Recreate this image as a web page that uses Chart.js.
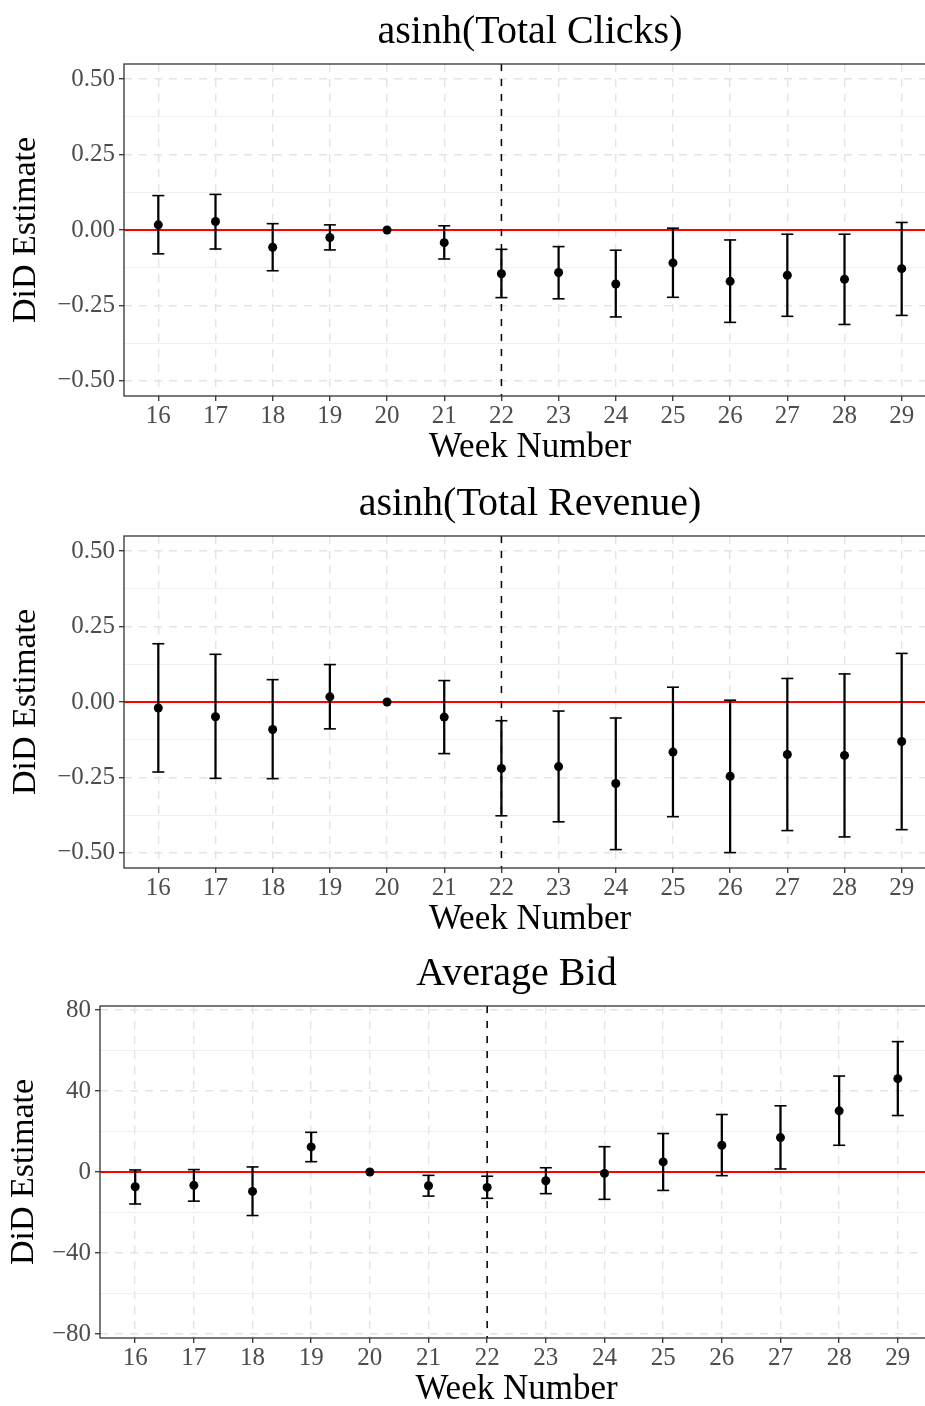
<!DOCTYPE html>
<html>
<head>
<meta charset="utf-8">
<script src="https://cdn.jsdelivr.net/npm/chart.js@4.4.1/dist/chart.umd.min.js"></script>
<style>
  html, body { margin: 0; padding: 0; background: #fff; overflow: hidden; width: 925px; height: 1406px; }
  .panel { position: absolute; left: 0; }
</style>
</head>
<body>
<div class="panel" style="top:-1px"><canvas id="clicks" width="936" height="470"></canvas></div>
<div class="panel" style="top:471px"><canvas id="revenue" width="936" height="470"></canvas></div>
<div class="panel" style="top:941px"><canvas id="bid" width="933" height="470"></canvas></div>
<script>
// weeks on the x axis
const weeks = [16, 17, 18, 19, 20, 21, 22, 23, 24, 25, 26, 27, 28, 29];

// asinh(Total Clicks): estimate and 95% interval
const clicksEst = [0.017, 0.028, -0.057, -0.025, 0, -0.042, -0.145, -0.141, -0.179, -0.109, -0.170, -0.150, -0.163, -0.128];
const clicksLo  = [-0.079, -0.063, -0.135, -0.066, 0, -0.096, -0.224, -0.228, -0.288, -0.223, -0.306, -0.286, -0.313, -0.283];
const clicksHi  = [0.114, 0.118, 0.021, 0.017, 0, 0.014, -0.064, -0.055, -0.067, 0.006, -0.033, -0.014, -0.014, 0.025];

// asinh(Total Revenue)
const revenueEst = [-0.020, -0.049, -0.091, 0.017, 0, -0.050, -0.220, -0.214, -0.270, -0.166, -0.246, -0.174, -0.177, -0.131];
const revenueLo  = [-0.232, -0.253, -0.254, -0.089, 0, -0.171, -0.377, -0.397, -0.489, -0.380, -0.499, -0.426, -0.447, -0.423];
const revenueHi  = [0.193, 0.158, 0.074, 0.124, 0, 0.071, -0.062, -0.030, -0.053, 0.049, 0.006, 0.078, 0.093, 0.161];

// Average Bid
const bidEst = [-7.3, -6.6, -9.6, 12.4, 0, -6.8, -7.6, -4.3, -0.7, 5.0, 13.2, 17.0, 30.2, 46.1];
const bidLo  = [-15.8, -14.4, -21.5, 5.1, 0, -11.9, -13.0, -10.7, -13.5, -9.1, -1.8, 1.5, 13.2, 27.9];
const bidHi  = [1.0, 1.2, 2.5, 19.6, 0, -1.65, -2.1, 2.1, 12.5, 19.0, 28.4, 32.7, 47.4, 64.4];

// axis ticks
const shareTicks = [-0.5, -0.25, 0, 0.25, 0.5];
const shareMinor = [-0.375, -0.125, 0.125, 0.375];
const bidTicks = [-80, -40, 0, 40, 80];
const bidMinor = [-60, -20, 20, 60];

const zeroLine = 0;
const treatWeek = 22;

const SERIF = "'Liberation Serif', 'Times New Roman', serif";
const MINUS = '\u2212';

function fmtShare(v) { return (v < 0 ? MINUS : '') + Math.abs(v).toFixed(2); }
function fmtBid(v) { return (v < 0 ? MINUS : '') + Math.abs(v); }

// red zero line + dashed line at the treatment week
const refLines = {
  id: 'refLines',
  beforeDatasetsDraw(chart) {
    const { ctx, chartArea: a, scales } = chart;
    ctx.save();
    const y0 = scales.y.getPixelForValue(zeroLine);
    ctx.strokeStyle = '#ff0000';
    ctx.lineWidth = 2;
    ctx.beginPath();
    ctx.moveTo(a.left, y0);
    ctx.lineTo(a.right, y0);
    ctx.stroke();

    const xt = scales.x.getPixelForValue(treatWeek);
    ctx.strokeStyle = '#000';
    ctx.lineWidth = 1.5;
    ctx.setLineDash([7, 8]);
    ctx.beginPath();
    ctx.moveTo(xt, a.top);
    ctx.lineTo(xt, a.bottom);
    ctx.stroke();
    ctx.restore();
  }
};

// box round the panel
const panelBorder = {
  id: 'panelBorder',
  afterDraw(chart) {
    const { ctx, chartArea: a } = chart;
    ctx.save();
    ctx.strokeStyle = '#333';
    ctx.lineWidth = 1.3;
    ctx.strokeRect(a.left, a.top, a.right - a.left, a.bottom - a.top);
    ctx.restore();
  }
};

function makePanel(id, title, est, lo, hi, major, minor, fmt, lim, axisW, yTitlePad) {
  const isMajor = v => major.some(m => Math.abs(m - v) < 1e-9);
  const bars = weeks.map((w, i) => ({ x: w, y: [lo[i], hi[i]] }));
  const caps = [];
  weeks.forEach((w, i) => {
    if (lo[i] !== hi[i]) {
      caps.push({ x: w, y: lo[i] });
      caps.push({ x: w, y: hi[i] });
    }
  });
  const pts = weeks.map((w, i) => ({ x: w, y: est[i] }));

  new Chart(document.getElementById(id), {
    type: 'scatter',
    data: {
      datasets: [
        { type: 'bar', data: bars, backgroundColor: '#000', borderWidth: 0, barThickness: 1.6, order: 3 },
        { type: 'scatter', data: caps, pointStyle: 'line', pointRadius: 6, borderColor: '#000',
          pointBorderColor: '#000', pointBorderWidth: 1.6, order: 2 },
        { type: 'scatter', data: pts, pointRadius: 4.5, pointBackgroundColor: '#000',
          pointBorderWidth: 0, order: 1 }
      ]
    },
    options: {
      responsive: false,
      animation: false,
      events: [],
      layout: { padding: 0, autoPadding: false },
      plugins: {
        legend: { display: false },
        tooltip: { enabled: false },
        title: {
          display: true,
          text: title,
          fullSize: false,
          color: '#000',
          font: { family: SERIF, size: 40, weight: 'normal', lineHeight: 1 },
          padding: { top: 13, bottom: 12 }
        }
      },
      scales: {
        x: {
          type: 'linear',
          min: 15.4,
          max: 29.6,
          offset: false,
          afterBuildTicks: s => { s.ticks = weeks.map(v => ({ value: v })); },
          afterFit: s => { s.height = 73; },
          ticks: {
            autoSkip: false, maxRotation: 0, padding: 3, color: '#4d4d4d',
            font: { family: SERIF, size: 25, lineHeight: 1 },
            callback: v => String(v)
          },
          grid: {
            offset: false, color: '#e4e4e4', lineWidth: 1.4,
            tickColor: '#333', tickLength: 5, tickWidth: 1.3, tickBorderDash: []
          },
          border: { display: false, dash: [8, 7] },
          title: {
            display: true, text: 'Week Number', color: '#000',
            font: { family: SERIF, size: 35, lineHeight: 1 },
            padding: { top: 0, bottom: 4 }
          }
        },
        y: {
          type: 'linear',
          min: -lim,
          max: lim,
          afterBuildTicks: s => {
            s.ticks = major.concat(minor).sort((a, b) => a - b).map(v => ({ value: v }));
          },
          afterFit: s => { s.width = axisW; },
          ticks: {
            padding: 4, color: '#4d4d4d',
            font: { family: SERIF, size: 25, lineHeight: 1 },
            callback: v => isMajor(v) ? fmt(v) : ''
          },
          grid: {
            color: c => isMajor(c.tick.value) ? '#e4e4e4' : '#efefef',
            lineWidth: c => isMajor(c.tick.value) ? 1.4 : 1.1,
            tickColor: c => isMajor(c.tick.value) ? '#333' : 'rgba(0,0,0,0)',
            tickLength: 5, tickWidth: 1.3, tickBorderDash: []
          },
          border: { display: false, dash: c => isMajor(c.tick.value) ? [8, 7] : [] },
          title: {
            display: true, text: 'DiD Estimate', color: '#000',
            font: { family: SERIF, size: 34, lineHeight: 1 },
            padding: { top: yTitlePad, bottom: 0 }
          }
        }
      }
    },
    plugins: [refLines, panelBorder]
  });
}

makePanel('clicks', 'asinh(Total Clicks)', clicksEst, clicksLo, clicksHi, shareTicks, shareMinor, fmtShare, 0.55, 124, 9);
makePanel('revenue', 'asinh(Total Revenue)', revenueEst, revenueLo, revenueHi, shareTicks, shareMinor, fmtShare, 0.55, 124, 9);
makePanel('bid', 'Average Bid', bidEst, bidLo, bidHi, bidTicks, bidMinor, fmtBid, 82, 100, 7);
</script>
</body>
</html>
